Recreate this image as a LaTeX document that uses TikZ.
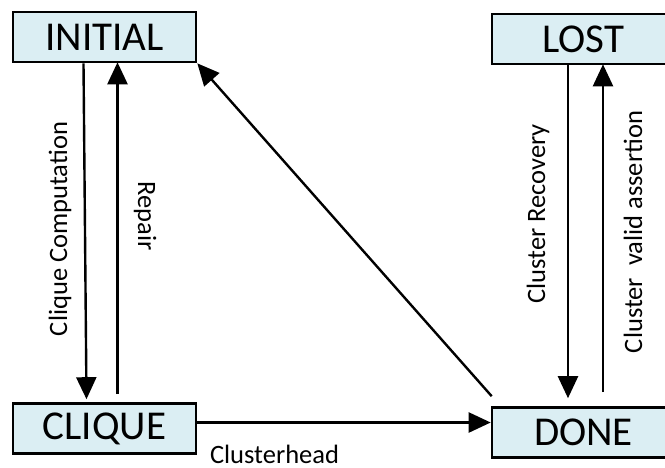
\documentclass[tikz,border=0pt]{standalone}
\usepackage{fontspec}
\setmainfont{Carlito}
\usetikzlibrary{arrows.meta}
\definecolor{statefill}{RGB}{219,238,243}
\tikzset{
  statebox/.style={draw=black, line width=2.6pt, fill=statefill,
    minimum width=183pt, minimum height=50pt, inner sep=0pt,
    font=\fontsize{41}{45}\selectfont},
  trans/.style={line width=2.4pt, -{Triangle[length=22pt,width=20pt]}},
  lbl/.style={font=\fontsize{26.5}{30}\selectfont, inner sep=0pt}
}
\begin{document}
\begin{tikzpicture}[x=1pt, y=-1pt]
  \useasboundingbox (0,0) rectangle (665,467);
  \clip (0,0) rectangle (665,467);

  % states
  \node[statebox] (INITIAL) at (104.5,37)   {INITIAL};
  \node[statebox] (CLIQUE)  at (104.5,428.5) {CLIQUE};
  \node[statebox] (LOST)    at (583.5,39)   {LOST};
  \node[statebox] (DONE)    at (583.5,432.5) {DONE};

  % left pair of transitions
  \draw[trans] ([xshift=-21pt]INITIAL.south) -- ([xshift=-18pt,yshift=3pt]CLIQUE.north);
  \draw[trans] ([xshift=13pt,yshift=8pt]CLIQUE.north) -- ([xshift=13pt,yshift=1pt]INITIAL.south);

  % right pair of transitions
  \draw[trans] ([xshift=-15.5pt]LOST.south) -- ([xshift=-15.5pt,yshift=8pt]DONE.north);
  \draw[trans] ([xshift=19.5pt,yshift=14pt]DONE.north) -- ([xshift=19.5pt,yshift=1pt]LOST.south);

  % CLIQUE to DONE
  \draw[trans] ([yshift=6pt]CLIQUE.east) -- ([yshift=6pt]CLIQUE.east -| DONE.west);

  % DONE back to INITIAL
  \draw[trans] ([xshift=1pt,yshift=10pt]DONE.north west) -- (INITIAL.south east);

  % labels
  \node[lbl, rotate=90]  (lcc) at (60,229)  {Clique Computation};
  \node[lbl, rotate=-90] (lrp) at (145,216) {Repair};
  \node[lbl, rotate=90]  (lcr) at (538,214) {Cluster Recovery};
  \node[lbl, rotate=90]  (lcv) at (633,232) {Cluster\ \ valid assertion};
  \node[lbl, anchor=base] (lch) at (274.5,463.5) {Clusterhead};
\end{tikzpicture}
\end{document}
